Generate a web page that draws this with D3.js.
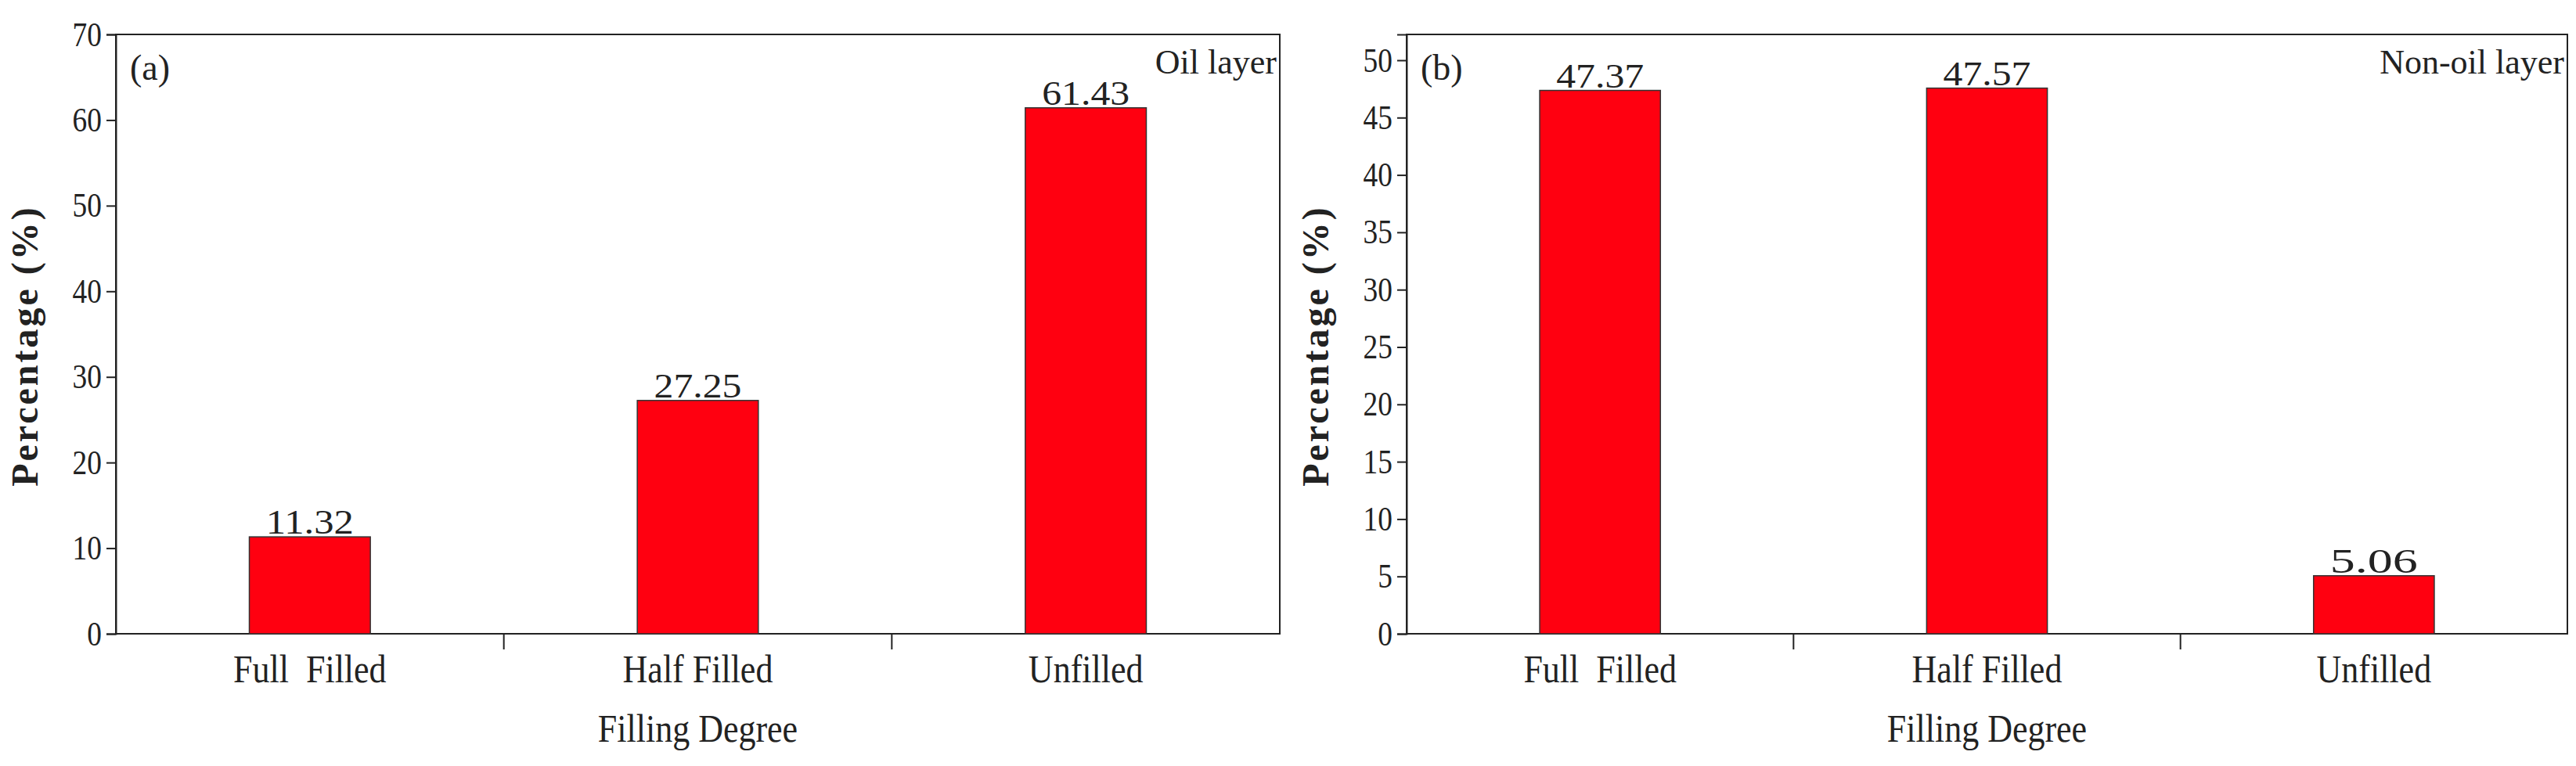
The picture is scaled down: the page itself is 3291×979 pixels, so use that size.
<!DOCTYPE html>
<html><head><meta charset="utf-8">
<script src="https://cdn.jsdelivr.net/npm/d3@7"></script>
<style>body{margin:0;background:#fff}</style>
</head><body>
<svg id="chart" width="3291" height="979"></svg>
<script>
const categories = ['Full  Filled', 'Half Filled', 'Unfilled'];
const oilValues = [11.32, 27.25, 61.43];
const nonOilValues = [47.37, 47.57, 5.06];
const oilTicks = [0, 10, 20, 30, 40, 50, 60, 70];
const nonOilTicks = [0, 5, 10, 15, 20, 25, 30, 35, 40, 45, 50];

const svg = d3.select('#chart');
const serif = 'Liberation Serif, Times New Roman, serif';

function panel(opts) {
    const {left, right, top, bottom, values, ticks, ymax, tag, title} = opts;
    const g = svg.append('g');
    const x = d3.scaleBand().domain(categories).range([left, right]);
    const y = d3.scaleLinear().domain([0, ymax]).range([bottom, top]);
    const barW = x.bandwidth() * 0.312;

    //frame
    g.append('rect').attr('x', left).attr('y', top)
        .attr('width', right - left).attr('height', bottom - top)
        .attr('fill', 'none').attr('stroke', '#222').attr('stroke-width', 2);

    //y axis
    const ya = g.append('g').attr('transform', `translate(${left},0)`)
        .call(d3.axisLeft(y).tickValues(ticks).tickSize(12).tickPadding(4));
    ya.select('.domain').attr('stroke', '#222').attr('stroke-width', 2);
    ya.selectAll('line').attr('stroke', '#222').attr('stroke-width', 2);
    ya.selectAll('text').attr('font-family', serif).attr('font-size', 44)
        .attr('fill', '#222').attr('transform', 'scale(0.85,1)')
        .attr('x', -16 / 0.85).attr('dx', 0)
        .each(function () { d3.select(this).attr('x', -18 / 0.85); });

    //category separators below axis
    categories.slice(1).forEach(c => {
        g.append('line').attr('x1', x(c)).attr('x2', x(c))
            .attr('y1', bottom).attr('y2', bottom + 20)
            .attr('stroke', '#222').attr('stroke-width', 2);
    });

    //bars
    g.selectAll('rect.bar').data(values).join('rect').attr('class', 'bar')
        .attr('x', (d, i) => x(categories[i]) + x.bandwidth() / 2 - barW / 2)
        .attr('y', d => y(d)).attr('width', barW).attr('height', d => bottom - y(d))
        .attr('fill', '#ff0010').attr('stroke', '#333').attr('stroke-width', 1.5);

    g.selectAll('text.val').data(values).join('text').attr('class', 'val')
        .attr('x', (d, i) => x(categories[i]) + x.bandwidth() / 2)
        .attr('y', d => y(d) - 4).attr('text-anchor', 'middle')
        .attr('font-family', serif).attr('font-size', 44).attr('fill', '#222')
        .attr('textLength', 112).attr('lengthAdjust', 'spacingAndGlyphs')
        .text(d => d.toFixed(2));

    g.selectAll('text.cat').data(categories).join('text').attr('class', 'cat')
        .attr('x', c => x(c) + x.bandwidth() / 2).attr('y', bottom + 62)
        .attr('text-anchor', 'middle').attr('font-family', serif)
        .attr('font-size', 50).attr('fill', '#222')
        .attr('transform', c => `translate(${(x(c) + x.bandwidth() / 2) * 0.12},0) scale(0.88,1)`)
        .style('white-space', 'pre').text(c => c);

    g.append('text').attr('x', (left + right) / 2).attr('y', bottom + 138)
        .attr('text-anchor', 'middle').attr('font-family', serif)
        .attr('font-size', 50).attr('fill', '#222')
        .attr('transform', `translate(${(left + right) / 2 * 0.12},0) scale(0.88,1)`)
        .text('Filling Degree');

    g.append('text').attr('transform', `translate(${left - 100},${(top + bottom) / 2 + 15}) rotate(-90)`)
        .attr('text-anchor', 'middle').attr('font-family', 'Liberation Serif, serif')
        .attr('font-weight', 'bold').attr('font-size', 48).attr('letter-spacing', 3)
        .attr('fill', '#222').text('Percentage (%)');

    g.append('text').attr('x', left + 18).attr('y', top + 58)
        .attr('font-family', serif).attr('font-size', 46).attr('fill', '#222').text(tag);

    g.append('text').attr('x', right - 4).attr('y', top + 50)
        .attr('text-anchor', 'end').attr('font-family', serif)
        .attr('font-size', 44).attr('fill', '#222').text(title);
}

panel({left: 148, right: 1635, top: 44, bottom: 810, values: oilValues,
    ticks: oilTicks, ymax: 70, tag: '(a)', title: 'Oil layer'});
panel({left: 1797, right: 3280, top: 44, bottom: 810, values: nonOilValues,
    ticks: nonOilTicks, ymax: 52.25, tag: '(b)', title: 'Non-oil layer'});
</script>
</body></html>
